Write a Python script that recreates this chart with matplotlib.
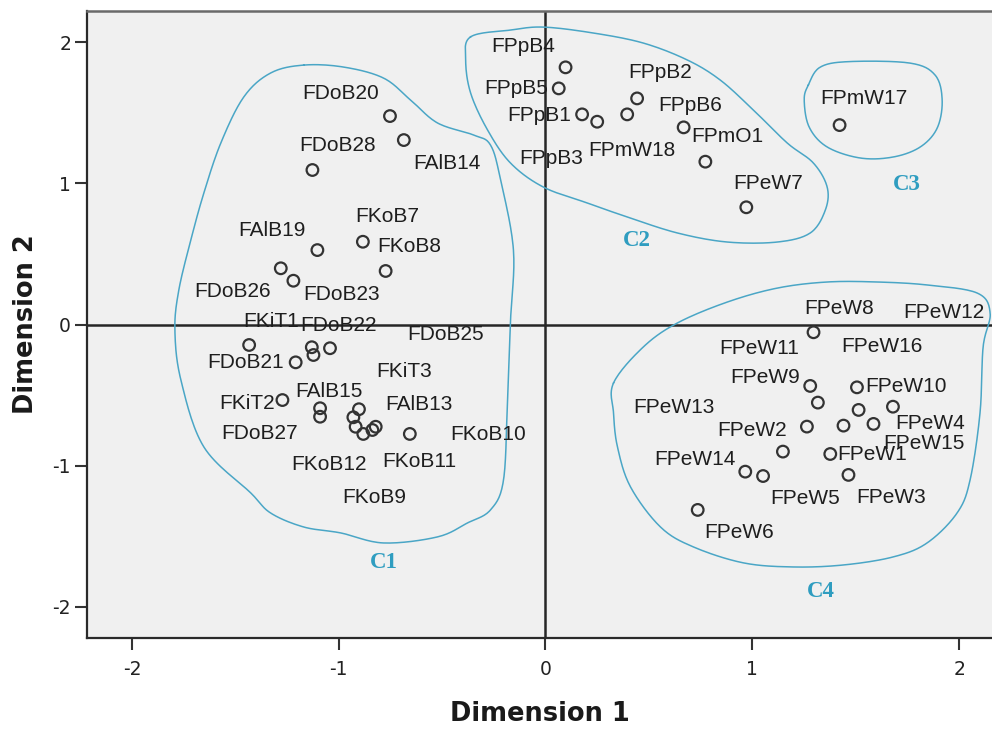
import numpy as np
import matplotlib
matplotlib.use("Agg")
import matplotlib.pyplot as plt

# ---------------- data ----------------
names = ['FDoB20', 'FAlB14', 'FDoB28', 'FKoB7', 'FAlB19', 'FKoB8', 'FDoB26', 'FDoB23',
         'FKiT1', 'FDoB21', 'FDoB22', '', 'FDoB25', 'FKiT2', 'FAlB15', 'FDoB27',
         'FKiT3', 'FKoB12', '', 'FKoB9', 'FAlB13', 'FKoB11', 'FKoB10',
         'FPpB4', 'FPpB5', 'FPpB1', 'FPpB3', 'FPmW18', 'FPpB2', 'FPpB6', 'FPmO1', 'FPeW7',
         'FPmW17',
         'FPeW8', 'FPeW9', 'FPeW10', 'FPeW16', 'FPeW12', 'FPeW4', 'FPeW11', 'FPeW13',
         'FPeW15', 'FPeW2', 'FPeW1', 'FPeW14', 'FPeW5', 'FPeW3', 'FPeW6']

dim1 = [-0.752, -0.685, -1.127, -0.883, -1.103, -0.773, -1.280, -1.219,
        -1.433, -1.208, -1.130, -1.122, -1.042, -1.272, -1.090, -1.090,
        -0.902, -0.929, -0.918, -0.881, -0.821, -0.837, -0.656,
        0.097, 0.064, 0.177, 0.250, 0.395, 0.443, 0.668, 0.773, 0.971,
        1.422,
        1.296, 1.280, 1.506, 1.317, 1.514, 1.680, 1.264, 1.441,
        1.586, 1.148, 1.377, 0.966, 1.052, 1.465, 0.736]

dim2 = [1.476, 1.306, 1.094, 0.586, 0.527, 0.379, 0.398, 0.310,
        -0.145, -0.268, -0.161, -0.216, -0.168, -0.535, -0.593, -0.653,
        -0.600, -0.657, -0.724, -0.775, -0.724, -0.747, -0.775,
        1.821, 1.672, 1.488, 1.436, 1.488, 1.601, 1.396, 1.153, 0.830,
        1.412,
        -0.055, -0.435, -0.445, -0.553, -0.605, -0.582, -0.723, -0.716,
        -0.704, -0.900, -0.917, -1.042, -1.073, -1.065, -1.313]

# label offsets in pixels (dx right, dy down) relative to the point
label_dx = [-49, 43, 25, 24, -45, 24, -48, 48,
            22, -50, 27, 0, 116, -35, 9, -61,
            45, -24, 0, 11, 43, 47, 78,
            -42, -43, -43, -46, 5, 23, 7, 22, 22,
            24,
            26, -45, 49, 64, 85, 37, -48, -170,
            50, -31, 42, -50, 42, 43, 41]
label_dy = [-23, 23, -25, -25, -20, -24, 23, 14,
            -23, 0, -22, 0, -14, 3, -17, 17,
            -38, 47, 0, 64, -22, 32, 1,
            -21, 0, 1, 37, 36, -26, -22, -25, -24,
            -27,
            -24, -8, -1, -56, -97, 17, -78, -18,
            20, -21, 1, -12, 22, 23, 23]

# hand-drawn cluster outlines (data units)
c1_x = [-1.169, -0.976, -0.783, -0.652, -0.522, -0.348, -0.266, -0.217, -0.155, -0.169,
        -0.184, -0.203, -0.266, -0.377, -0.522, -0.783, -0.990, -1.169, -1.329, -1.425,
        -1.652, -1.763, -1.792, -1.773, -1.715, -1.652, -1.570, -1.459, -1.329]
c1_y = [1.837, 1.823, 1.745, 1.589, 1.427, 1.342, 1.271, 1.023, 0.527, 0.032,
        -0.534, -1.101, -1.313, -1.405, -1.504, -1.547, -1.476, -1.434, -1.335, -1.193,
        -0.867, -0.393, -0.039, 0.244, 0.598, 0.931, 1.285, 1.611, 1.781]
c2_x = [-0.362, -0.169, -0.010, 0.232, 0.473, 0.686, 0.845, 1.005, 1.169, 1.295, 1.362,
        1.353, 1.280, 1.121, 0.879, 0.638, 0.396, 0.203, -0.010, -0.169, -0.280, -0.362, -0.386]
c2_y = [2.037, 2.085, 2.106, 2.064, 1.993, 1.873, 1.731, 1.519, 1.285, 1.144, 0.973,
        0.810, 0.648, 0.584, 0.584, 0.648, 0.761, 0.860, 0.973, 1.143, 1.377, 1.639, 1.873]
c3_x = [1.271, 1.329, 1.473, 1.763, 1.884, 1.918, 1.894, 1.812, 1.681, 1.522, 1.362, 1.275, 1.251]
c3_y = [1.696, 1.823, 1.862, 1.851, 1.766, 1.589, 1.391, 1.257, 1.186, 1.179, 1.257, 1.398, 1.589]
c4_x = [0.329, 0.473, 0.638, 0.879, 1.121, 1.362, 1.604, 1.845, 2.087, 2.150, 2.116, 2.101,
        2.053, 1.990, 1.845, 1.681, 1.440, 1.198, 0.957, 0.715, 0.556, 0.411, 0.348, 0.329]
c4_y = [-0.414, -0.159, 0.011, 0.159, 0.258, 0.301, 0.301, 0.280, 0.223, 0.081, -0.159, -0.627,
        -1.101, -1.335, -1.547, -1.646, -1.703, -1.717, -1.688, -1.575, -1.434, -1.150, -0.867, -0.627]

cluster_names = ['C1', 'C2', 'C3', 'C4']
cluster_lx = [-0.783, 0.443, 1.747, 1.329]
cluster_ly = [-1.688, 0.598, 0.988, -1.892]

xticks = [-2, -1, 0, 1, 2]
yticks = [-2, -1, 0, 1, 2]


def smooth_closed(x, y, n=16):
    P = np.column_stack([x, y])
    N = len(P)
    t = np.linspace(0, 1, n, endpoint=False)[:, None]
    segs = []
    for i in range(N):
        p0, p1, p2, p3 = P[i - 1], P[i], P[(i + 1) % N], P[(i + 2) % N]
        segs.append(0.5 * (2 * p1 + (-p0 + p2) * t + (2 * p0 - 5 * p1 + 4 * p2 - p3) * t ** 2
                           + (-p0 + 3 * p1 - 3 * p2 + p3) * t ** 3))
    out = np.vstack(segs + [segs[0][:1]])
    return out[:, 0], out[:, 1]


# ---------------- figure ----------------
fig = plt.figure(figsize=(9.92, 7.31), dpi=100)
ax = fig.add_axes([87 / 992, 1 - 638 / 731, 1 - 87 / 992, (638 - 11) / 731])
ax.set_facecolor('#f0f0f0')
ax.set_xlim(-2.217, 2.159)
ax.set_ylim(-2.22, 2.22)

ax.axhline(0, color='#262626', lw=1.8, zorder=1)
ax.axvline(0, color='#262626', lw=1.8, zorder=1)

outline_col = '#4aa6c6'
for cx, cy in [(c1_x, c1_y), (c2_x, c2_y), (c3_x, c3_y), (c4_x, c4_y)]:
    sx, sy = smooth_closed(cx, cy)
    ax.plot(sx, sy, color=outline_col, lw=1.1, zorder=2)

ax.scatter(dim1, dim2, s=70, facecolors='none', edgecolors='#333333', linewidths=1.6, zorder=3)

for nm, x, y, dx, dy in zip(names, dim1, dim2, label_dx, label_dy):
    if nm:
        ax.annotate(nm, (x, y), xytext=(dx, -dy), textcoords='offset pixels',
                    ha='center', va='center', fontsize=15, color='#1e1e1e',
                    family='Liberation Sans', zorder=4)

for nm, x, y in zip(cluster_names, cluster_lx, cluster_ly):
    ax.text(x, y, nm, ha='center', va='center', fontsize=16.5, fontweight='bold',
            family='Liberation Serif', color='#2f9dc0', zorder=4)

ax.set_xticks(xticks)
ax.set_yticks(yticks)
ax.set_xticklabels([str(v) for v in xticks])
ax.set_yticklabels([str(v) for v in yticks])
ax.tick_params(direction='out', length=8.5, width=1.5, color='#333333',
               labelsize=13.5, labelcolor='#222222')
ax.tick_params(axis='x', pad=7)
ax.tick_params(axis='y', pad=3)

for side in ['left', 'bottom']:
    ax.spines[side].set_color('#2a2a2a')
    ax.spines[side].set_linewidth(1.6)
ax.spines['top'].set_color('#6a6a6a')
ax.spines['top'].set_linewidth(1.8)
ax.spines['right'].set_visible(False)

ax.set_xlabel('Dimension 1', fontsize=18.5, fontweight='bold', family='DejaVu Sans',
              color='#1a1a1a', labelpad=16)
ax.set_ylabel('Dimension 2', fontsize=18.5, fontweight='bold', family='DejaVu Sans',
              color='#1a1a1a', labelpad=10)

fig.savefig('out.png', dpi=100, facecolor='white')
